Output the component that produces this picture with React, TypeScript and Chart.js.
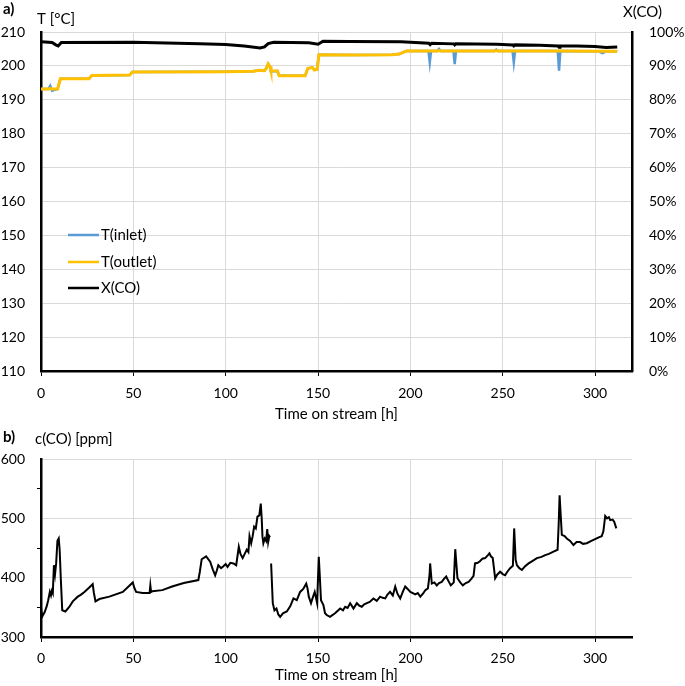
import React, { useEffect, useRef } from "react";
import { Chart, registerables } from "chart.js";

Chart.register(...registerables);

// ---------- Data ----------
const tempTime = [0, 4, 5, 6, 9, 10.5, 26, 27.5, 48, 49.5, 100, 115, 118, 121, 122, 123, 124, 124.5, 128, 129, 143, 144.5, 147, 148, 149.5, 150.5, 170, 190, 194, 196, 198, 209.8, 210.5, 211.2, 214.5, 215.5, 216.5, 223.3, 224, 224.7, 245.5, 246.5, 247.5, 255.3, 256, 256.7, 279.8, 280.5, 281.2, 302, 304, 306, 312];
const tempInlet = [193.2, 193.2, 194.1, 192.7, 193.2, 196.2, 196.2, 197.2, 197.3, 198.2, 198.3, 198.4, 198.7, 198.6, 199.3, 200.6, 199.8, 198.4, 198.5, 197.1, 197.1, 199.3, 199.5, 198.8, 199.0, 203.3, 203.2, 203.3, 203.5, 204.0, 204.4, 204.4, 201.0, 204.4, 204.4, 205.0, 204.4, 204.4, 200.5, 204.4, 204.4, 204.8, 204.4, 204.4, 201.0, 204.4, 204.4, 198.6, 204.4, 204.3, 203.8, 204.3, 204.3];
const tempOutlet = [193.2, 193.2, 193.3, 193.2, 193.2, 196.2, 196.2, 197.2, 197.3, 198.2, 198.3, 198.4, 198.7, 198.6, 199.3, 200.6, 199.8, 198.6, 198.5, 197.1, 197.1, 199.3, 199.5, 198.8, 199.0, 203.3, 203.2, 203.3, 203.5, 204.0, 204.4, 204.4, 204.4, 204.4, 204.4, 204.5, 204.4, 204.4, 204.4, 204.4, 204.4, 204.5, 204.4, 204.4, 204.4, 204.4, 204.4, 204.4, 204.4, 204.3, 204.3, 204.3, 204.3];

const xcoTime = [0, 6, 8, 9.3, 11, 50, 86, 100, 110, 118.6, 121, 123, 126, 145, 150, 152.7, 167, 195, 210, 210.7, 211.5, 223.5, 224, 224.6, 246.8, 255.5, 256, 256.6, 270, 280, 280.5, 281, 290, 300, 306, 309, 312];
const xcoValues = [97.1, 96.9, 96.2, 95.9, 96.9, 97.0, 96.5, 96.3, 95.9, 95.3, 95.6, 96.6, 97.0, 96.8, 96.4, 97.3, 97.2, 97.1, 96.7, 96.3, 96.7, 96.5, 96.2, 96.5, 96.4, 96.2, 95.9, 96.2, 96.1, 95.9, 95.5, 95.9, 95.9, 95.7, 95.4, 95.5, 95.6];

const coTime = [
  0, 0.6, 2, 3.1, 3.9, 4.8, 5.4, 5.9, 6.4, 7.0, 7.6, 8.2, 8.9, 9.6, 10.1, 10.7, 11.5, 13.2, 15.4, 17.2, 19.9, 21.5, 23.5, 26, 28, 28.6, 29.5, 31.6, 37, 44.3, 49.7, 50.5, 51.5, 55, 58.8, 59.2, 59.6, 60.3, 65.7, 71, 77.3, 85.2, 86, 87, 89.4, 91.6, 93, 94.3, 95.2, 96, 97.5, 98.6, 100, 101, 102.5, 104.2, 105.7, 107.1, 108, 109.2, 110.3, 111.4, 112.3, 112.9, 113.8, 114.6, 115.4, 116.3, 117.2, 118.2, 119, 119.5, 119.9, 120.4, 121.2, 121.9, 122.5, 123, 123.6, 124,
  124.3,
  124.6, 125.5, 126.4, 127.5, 128.5, 129.5, 131, 133.1, 135, 136.7, 138.5, 140.3, 142, 143.6, 144.3, 145, 146.2, 147, 148.2, 149.5, 150.4, 151, 151.6, 152.9, 153.8, 154.7, 156.5, 159.2, 162, 163.5, 164.7, 166, 167.4, 169.2, 171, 172.3, 173.7, 175, 176.4, 178, 180, 181.8, 183.6, 185, 186.4, 187.5, 189, 190.5, 191.8, 193, 194.5, 196, 197.2, 198.5, 200, 202.7, 204, 205.4, 206.8, 208.1, 209.5, 210.4, 210.7, 211.6, 213, 214.3, 215.5, 217, 218.2, 219.4, 220.5, 221.9, 223.5, 224.3, 225.5, 227, 228.4, 230, 231.5, 233, 234.2, 235, 236.5, 237.8, 239, 240.5, 242, 242.8, 243.6, 244.6, 245.3, 245.9, 247, 248.6, 250, 251.3, 252.5, 254, 255.5, 256.2, 257, 257.7, 259, 260.4, 262, 264, 266, 268.5, 271, 273, 275, 277.5, 279.7, 280.3, 280.8, 281.5, 282, 283.5, 284.7, 286.5, 288.3, 290, 291.9, 293.5, 295.5, 298, 300, 302, 303.6, 304.5, 305.5, 306.5, 307.5, 308.2, 309.5, 310.4, 311.5
];
const coValues = [
  350, 334, 342, 352, 362, 376, 370, 378, 374, 421, 406, 424, 462, 466, 447, 400, 345, 343, 351, 360, 368, 371, 376, 383, 389, 375, 360, 364, 368, 376, 392, 383, 376, 374, 374, 387, 376, 377, 379, 385, 391, 396, 410, 431, 436, 427, 414, 404, 412, 421, 416, 419, 423, 418, 425, 424, 421, 452, 440, 433, 440, 447, 443, 470, 458, 470, 486, 483, 503, 505, 525, 500, 470, 458, 466, 462, 482, 460, 470, 468,
  null,
  424, 357, 345, 348, 338, 334, 340, 343, 352, 365, 362, 376, 381, 390, 382, 368, 357, 365, 376, 357, 435, 400, 362, 354, 340, 337, 334, 340, 348, 345, 351, 349, 357, 348, 357, 353, 351, 355, 357, 359, 365, 361, 368, 366, 365, 371, 376, 370, 385, 373, 365, 377, 385, 381, 376, 372, 374, 368, 373, 379, 382, 405, 424, 390, 392, 387, 391, 393, 398, 402, 395, 387, 392, 448, 399, 392, 387, 391, 393, 398, 403, 424, 425, 428, 432, 433, 438, 441, 436, 433, 415, 399, 405, 410, 406, 404, 410, 416, 420, 483, 430, 421, 416, 413, 419, 424, 428, 433, 435, 438, 440, 444, 447, 490, 539, 500, 472, 470, 466, 462, 455, 460, 460, 457, 458, 462, 465, 468, 470, 478, 504, 500, 502, 497, 498, 494, 483
];

const xTickValues = [0, 50, 100, 150, 200, 250, 300];
const tempTicks = [110, 120, 130, 140, 150, 160, 170, 180, 190, 200, 210];
const legendLabels = ["T(inlet)", "T(outlet)", "X(CO)"];

// ---------- Styles ----------
const FONT = "Lato";
const GRID = "#d9d9d9";
const BLUE = "#5b9bd5";
const YELLOW = "#ffc000";
const BLACK = "#000000";
const tickFont = { family: FONT, size: 14 };
const titleFont = { family: FONT, size: 15 };

const toXY = (xs: number[], ys: (number | null)[]) => xs.map((x, i) => ({ x, y: ys[i] }));

const keepTicks = (values: number[]) => (scale: any) => {
  scale.ticks = values.map((v) => ({ value: v }));
};

const xScale = (height: number, pad: number) => ({
  type: "linear",
  min: 0,
  max: 320,
  afterBuildTicks: keepTicks(xTickValues),
  ticks: { font: tickFont, color: BLACK, padding: pad, maxRotation: 0 },
  grid: { color: GRID, lineWidth: 1, tickColor: BLACK, tickLength: 5 },
  border: { color: BLACK, width: 2.5 },
  title: { display: true, text: "Time on stream [h]", font: titleFont, color: BLACK, padding: { top: 0, bottom: 2 } },
  afterFit: (s: any) => {
    s.height = height;
  },
});

const textPlugin = (id: string, items: { text: string; x: number; y: number; bold?: boolean }[], legend?: boolean) => ({
  id,
  afterDraw(chart: any) {
    const ctx = chart.ctx;
    ctx.save();
    ctx.fillStyle = BLACK;
    ctx.textBaseline = "middle";
    ctx.textAlign = "left";
    items.forEach((it) => {
      ctx.font = `${it.bold ? "bold " : ""}15px ${FONT}`;
      ctx.fillText(it.text, it.x, it.y);
    });
    if (legend) {
      const colors = [BLUE, YELLOW, BLACK];
      const rows = [235, 262, 288];
      legendLabels.forEach((lab, i) => {
        ctx.strokeStyle = colors[i];
        ctx.lineWidth = 2.5;
        ctx.beginPath();
        ctx.moveTo(68, rows[i]);
        ctx.lineTo(99, rows[i]);
        ctx.stroke();
        ctx.font = `15px ${FONT}`;
        ctx.fillText(lab, 101, rows[i]);
      });
    }
    ctx.restore();
  },
});

export default function App() {
  const topRef = useRef<HTMLCanvasElement>(null);
  const botRef = useRef<HTMLCanvasElement>(null);

  useEffect(() => {
    const top = new Chart(topRef.current as HTMLCanvasElement, {
      type: "line",
      data: {
        datasets: [
          { label: legendLabels[0], data: toXY(tempTime, tempInlet), borderColor: BLUE, borderWidth: 2.5, yAxisID: "y", order: 2 },
          { label: legendLabels[1], data: toXY(tempTime, tempOutlet), borderColor: YELLOW, borderWidth: 3, yAxisID: "y", order: 1 },
          { label: legendLabels[2], data: toXY(xcoTime, xcoValues), borderColor: BLACK, borderWidth: 3, yAxisID: "y1", order: 0 },
        ],
      },
      options: {
        animation: false,
        responsive: false,
        devicePixelRatio: 1,
        layout: { padding: { top: 32, left: 0, right: 0, bottom: 0 } },
        elements: { point: { radius: 0 }, line: { tension: 0 } },
        plugins: { legend: { display: false }, tooltip: { enabled: false } },
        scales: {
          x: xScale(54, 9) as any,
          y: {
            type: "linear",
            position: "left",
            min: 110,
            max: 210,
            afterBuildTicks: keepTicks(tempTicks),
            ticks: { font: tickFont, color: BLACK, padding: 16 },
            grid: { color: GRID, drawTicks: false },
            border: { color: BLACK, width: 2.5 },
            afterFit: (s: any) => {
              s.width = 41;
            },
          },
          y1: {
            type: "linear",
            position: "right",
            min: 0,
            max: 100,
            ticks: { stepSize: 10, font: tickFont, color: BLACK, padding: 17, callback: (v: any) => `${v}%` },
            grid: { drawOnChartArea: false, drawTicks: false },
            border: { color: BLACK, width: 2.5 },
            afterFit: (s: any) => {
              s.width = 53;
            },
          },
        },
      },
      plugins: [
        textPlugin(
          "topText",
          [
            { text: "a)", x: 3, y: 9, bold: true },
            { text: "T [°C]", x: 37, y: 19 },
            { text: "X(CO)", x: 623, y: 12 },
          ],
          true
        ),
      ],
    } as any);

    const bot = new Chart(botRef.current as HTMLCanvasElement, {
      type: "line",
      data: {
        datasets: [
          { label: "c(CO)", data: toXY(coTime, coValues), borderColor: BLACK, borderWidth: 2, spanGaps: false },
        ],
      },
      options: {
        animation: false,
        responsive: false,
        devicePixelRatio: 1,
        layout: { padding: { top: 34, left: 0, right: 53, bottom: 0 } },
        elements: { point: { radius: 0 }, line: { tension: 0 } },
        plugins: { legend: { display: false }, tooltip: { enabled: false } },
        scales: {
          x: xScale(49, 8) as any,
          y: {
            type: "linear",
            min: 300,
            max: 600,
            ticks: {
              stepSize: 50,
              font: tickFont,
              color: BLACK,
              padding: 12,
              callback: (v: any) => (v % 100 === 0 ? `${v}` : ""),
            },
            grid: {
              color: (c: any) => (c.tick && c.tick.value % 100 === 0 ? GRID : "rgba(0,0,0,0)"),
              tickColor: (c: any) => (c.tick && c.tick.value % 100 === 0 ? "rgba(0,0,0,0)" : BLACK),
              tickLength: 4,
            },
            border: { color: BLACK, width: 2.5 },
            afterFit: (s: any) => {
              s.width = 41;
            },
          },
        },
      },
      plugins: [
        textPlugin("botText", [
          { text: "b)", x: 3, y: 12.5, bold: true },
          { text: "c(CO) [ppm]", x: 35, y: 14 },
        ]),
      ],
    } as any);

    return () => {
      top.destroy();
      bot.destroy();
    };
  }, []);

  return (
    <div style={{ position: "absolute", left: 0, top: 0, width: 685, height: 686, background: "#fff" }}>
      <canvas ref={topRef} width={685} height={425} style={{ display: "block" }} />
      <canvas ref={botRef} width={685} height={261} style={{ display: "block" }} />
    </div>
  );
}
